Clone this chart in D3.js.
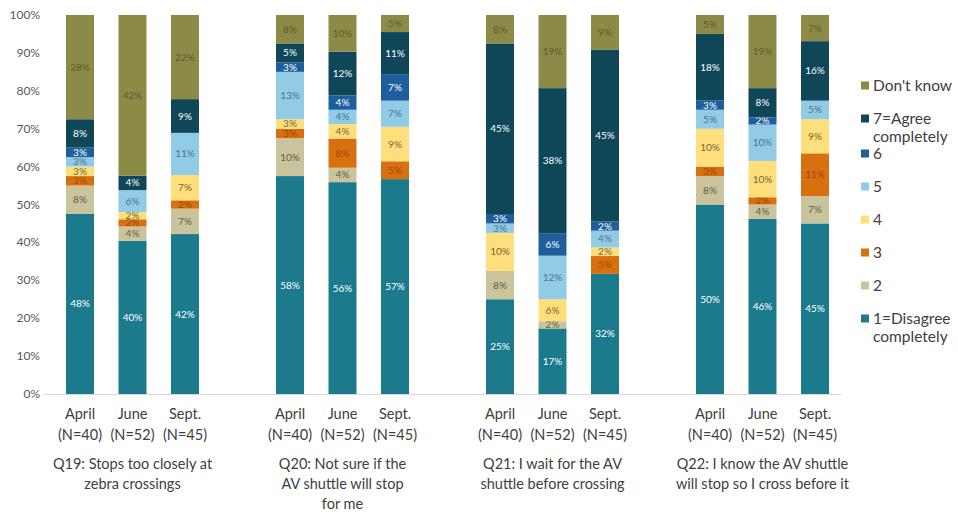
<!DOCTYPE html>
<html>
<head>
<meta charset="utf-8">
<script src="https://cdn.jsdelivr.net/npm/d3@7"></script>
<style>
  body { margin: 0; background: #ffffff; }
  text { font-family: Lato, "Open Sans", sans-serif; }
</style>
</head>
<body>
<script>
// chart data
var questions = ["Q19", "Q20", "Q21", "Q22"];
var questionTitles = [
  ["Q19: Stops too closely at", "zebra crossings"],
  ["Q20: Not sure if the", "AV shuttle will stop", "for me"],
  ["Q21: I wait for the AV", "shuttle before crossing"],
  ["Q22: I know the AV shuttle", "will stop so I cross before it"]
];
var months = ["April", "June", "Sept."];
var sampleSizes = ["(N=40)", "(N=52)", "(N=45)"];
var seriesNames = ["1=Disagree completely", "2", "3", "4", "5", "6", "7=Agree completely", "Don't know"];

// one value per bar: Q19 Apr/Jun/Sep, Q20 ..., Q21 ..., Q22 ...
var disagree = [47.5, 40.4, 42.2, 57.5, 55.9, 56.7, 25.0, 17.3, 31.7, 50.0, 46.2, 45.0];
var two      = [ 7.5,  3.8,  6.7, 10.0,  3.8,  0.0,  7.5,  1.9,  0.0,  7.5,  3.8,  7.2];
var three    = [ 2.5,  1.9,  2.2,  2.5,  7.7,  4.7,  0.0,  0.0,  4.7,  2.5,  1.9, 11.3];
var four     = [ 2.5,  1.9,  6.7,  2.5,  3.8,  9.1, 10.0,  5.8,  2.3, 10.0,  9.6,  9.0];
var five     = [ 2.5,  5.8, 11.1, 12.5,  3.8,  6.9,  2.5, 11.5,  4.4,  5.0,  9.6,  4.9];
var six      = [ 2.5,  0.0,  0.0,  2.5,  3.8,  7.0,  2.5,  5.8,  2.4,  2.5,  1.9,  0.0];
var agree    = [ 7.5,  3.8,  8.9,  5.0, 11.5, 11.1, 45.0, 38.4, 45.4, 17.5,  7.7, 15.7];
var dontKnow = [27.5, 42.4, 22.2,  7.5,  9.7,  4.5,  7.5, 19.3,  9.1,  5.0, 19.3,  6.9];

var yTicks = [0, 10, 20, 30, 40, 50, 60, 70, 80, 90, 100];

var colors = ["#1b7b8c", "#c9c49c", "#d8700f", "#fedf7b", "#91cbe6", "#1d5f9c", "#0f4658", "#8b8a47"];
var labelColors = ["#ffffff", "#5e5e4c", "#9a4a0c", "#74673a", "#4b7590", "#ffffff", "#ffffff", "#5d5c2c"];

var width = 958, height = 515;
var plot = { left: 53.75, right: 841.25, top: 15, bottom: 394 };

var translate = function(x, y) {
  return "translate(" + x + "," + y + ")";
};

var seriesValues = [disagree, two, three, four, five, six, agree, dontKnow];

var rows = [];
questions.forEach(function(q, i) {
  months.forEach(function(m, j) {
    var row = { question: q, month: m };
    seriesNames.forEach(function(s, k) {
      row[s] = seriesValues[k][i * 3 + j];
    });
    rows.push(row);
  });
});

var stacked = d3.stack().keys(seriesNames)(rows);

var x0 = d3.scaleBand()
  .domain(questions)
  .range([plot.left, plot.right])
  .paddingInner(0.25)
  .paddingOuter(0);

var x1 = d3.scaleBand()
  .domain(months)
  .range([0, x0.bandwidth()])
  .paddingInner(0.467)
  .paddingOuter(0.2335);

var y = d3.scaleLinear().domain([0, 100]).range([plot.bottom, plot.top]);

var barX = function(d) {
  return x0(d.data.question) + x1(d.data.month);
};

var svg = d3.select("body").append("svg")
  .attr("width", width)
  .attr("height", height);

svg.append("rect")
  .attr("width", width)
  .attr("height", height)
  .style("fill", "#ffffff");

// y axis labels
svg.append("g")
  .selectAll("text")
  .data(yTicks)
  .enter()
  .append("text")
  .attr("x", 40)
  .attr("y", function(d) { return y(d) + 4; })
  .attr("text-anchor", "end")
  .style("font-size", "12px")
  .style("fill", "#595959")
  .text(function(d) { return d + "%"; });

// baseline
svg.append("line")
  .attr("x1", 44)
  .attr("x2", plot.right)
  .attr("y1", y(0) + 0.5)
  .attr("y2", y(0) + 0.5)
  .style("stroke", "#d9d9d9")
  .style("stroke-width", 1);

var layers = svg.selectAll(".layer")
  .data(stacked)
  .enter()
  .append("g")
  .attr("class", "layer");

layers.selectAll("rect")
  .data(function(d) { return d; })
  .enter()
  .append("rect")
  .attr("x", barX)
  .attr("width", x1.bandwidth())
  .attr("y", function(d) { return y(d[1]); })
  .attr("height", function(d) { return y(d[0]) - y(d[1]); })
  .style("fill", function() {
    return colors[d3.select(this.parentNode).datum().index];
  });

layers.selectAll("text")
  .data(function(d) {
    return d.filter(function(p) { return p[1] - p[0] > 0; });
  })
  .enter()
  .append("text")
  .attr("x", function(d) { return barX(d) + x1.bandwidth() / 2; })
  .attr("y", function(d) { return y((d[0] + d[1]) / 2) + 3.5; })
  .attr("text-anchor", "middle")
  .style("font-size", "10px")
  .style("fill", function() {
    return labelColors[d3.select(this.parentNode).datum().index];
  })
  .text(function(d) { return d3.format(".0f")(d[1] - d[0]) + "%"; });

// category labels
var cats = svg.append("g")
  .selectAll("g")
  .data(rows)
  .enter()
  .append("g")
  .attr("transform", function(d) {
    return translate(x0(d.question) + x1(d.month) + x1.bandwidth() / 2, 0);
  })
  .style("font-size", "14.5px")
  .style("fill", "#404040")
  .attr("text-anchor", "middle");

cats.append("text")
  .attr("y", 419)
  .text(function(d) { return d.month; });

cats.append("text")
  .attr("y", 440)
  .text(function(d) { return sampleSizes[months.indexOf(d.month)]; });

svg.append("g")
  .selectAll("text")
  .data(questions)
  .enter()
  .append("text")
  .attr("x", function(d) { return x0(d) + x0.bandwidth() / 2; })
  .attr("y", 469)
  .attr("text-anchor", "middle")
  .style("font-size", "14.5px")
  .style("fill", "#404040")
  .each(function(d, i) {
    var t = d3.select(this);
    questionTitles[i].forEach(function(line, k) {
      t.append("tspan")
        .attr("x", x0(d) + x0.bandwidth() / 2)
        .attr("dy", k === 0 ? 0 : 20)
        .text(line);
    });
  });

// legend, top to bottom: Don't know ... 1=Disagree
var legendY = 86, step = 33, wrap = 17.5;
var legend = svg.append("g").style("font-size", "15.5px").style("fill", "#404040");

seriesNames.slice().reverse().forEach(function(name) {
  var lines = name.indexOf("=") > 0 ? name.split(" ") : [name];
  var idx = seriesNames.indexOf(name);
  legend.append("rect")
    .attr("x", 861)
    .attr("y", legendY - 4.5)
    .attr("width", 8)
    .attr("height", 8)
    .style("fill", colors[idx]);
  lines.forEach(function(line, k) {
    legend.append("text")
      .attr("x", 873)
      .attr("y", legendY + 5 + k * wrap)
      .text(line);
  });
  legendY += step + (lines.length - 1) * 2;
});
</script>
</body>
</html>
